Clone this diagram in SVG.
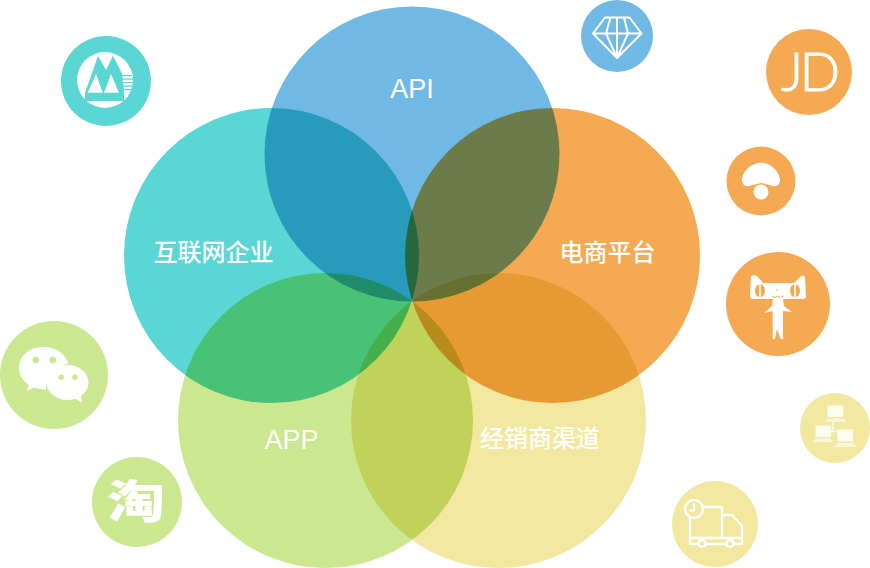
<svg xmlns="http://www.w3.org/2000/svg" width="870" height="568" viewBox="0 0 870 568">
<style>
.v{mix-blend-mode:multiply}
.lab{fill:#fff;font-family:"Liberation Sans","Noto Sans CJK SC",sans-serif;font-size:27px;text-anchor:middle}
.cjk{font-family:"Noto Sans CJK SC",sans-serif;font-size:24px;font-weight:500}
.ln{fill:none;stroke:#fff;stroke-width:2;stroke-linejoin:round;stroke-linecap:round}
.tr{stroke-width:2.400}
.thin{fill:none;stroke:#fff;stroke-width:1.200}
.w{fill:#fff}
.blue{fill:#70b9e4}.teal{fill:#5ad6d4}.or{fill:#f4a952}.gr{fill:#cbe78f}.ye{fill:#f2e8a0}
</style>
<rect width="870" height="568" fill="#fff"/>
<g id="venn" style="isolation:isolate">
<rect width="870" height="568" fill="#fff"/>
<circle class="v blue" cx="412" cy="154" r="147.5"/>
<circle class="v teal" cx="271.5" cy="255.5" r="147.5"/>
<circle class="v or" cx="552.5" cy="255.5" r="147.5"/>
<circle class="v gr" cx="325.5" cy="420.5" r="147.5"/>
<circle class="v ye" cx="498.500" cy="420.5" r="147.5"/>
</g>
<g id="api"><text class="lab" x="412" y="97.500">API</text></g>
<g id="internet"><text class="lab cjk" x="213.500" y="261">互联网企业</text></g>
<g id="ecommerce"><text class="lab cjk" x="607.500" y="261">电商平台</text></g>
<g id="app"><text class="lab" x="291.500" y="448.500">APP</text></g>
<g id="dealer"><text class="lab cjk" x="540" y="447">经销商渠道</text></g>

<g id="icon-cmb">
<circle class="teal" cx="106" cy="81" r="45"/>
<circle class="w" cx="105" cy="80" r="28"/>
<path class="teal" d="M98 55.700L106 70L113 55.700L122 73.500L124 92V101H85V93Z"/>
<path class="w" d="M96 74L87.700 92.700H102.700ZM111 74L104 92.700H119Z"/>
<path class="teal" d="M121 75H132V76.200H121ZM122 78.500H133V79.700H122ZM122.500 82H133V83.200H122.500ZM123 85.500H132.500V86.700H123ZM123.500 89H132V90.200H123.500Z"/>
</g>
<g id="icon-diamond">
<circle class="blue" cx="617" cy="36" r="36"/>
<path class="ln" d="M605 17.500H629.500L641.500 33.500L617 58L593 33.500ZM593 33.500H641.500M610.500 17.500L606 33.500L617 58M624 17.500L628 33.500L617 58M617 17.500V58"/>
</g>
<g id="icon-jd">
<circle class="or" cx="809" cy="72" r="43"/>
<text x="809" y="91" fill="#fff" stroke="#fff" stroke-width="1" font-family="Lato,sans-serif" font-weight="300" font-size="53" letter-spacing="-3" text-anchor="middle">JD</text>
</g>
<g id="icon-mushroom">
<circle class="or" cx="761" cy="181" r="34.500"/>
<path class="w" d="M761 162.700C771 162.700 780 172 780 180C780 185 776 187 772.500 186L768 184.500H754L749.500 186C746 187 742 185 742 180C742 172 751 162.700 761 162.700Z"/>
<circle class="or" cx="761" cy="192" r="9"/>
<circle class="w" cx="761" cy="192" r="7.500"/>
</g>
<g id="icon-cat">
<circle class="or" cx="778" cy="304" r="52"/>
<path class="w" d="M751 276.500C753 274.500 756 275 758 277L763 283H794L800 277C802 275 804 275 805 277L806 295C806 298 805 299 803 299H753C751 299 750 298 750 295Z"/>
<ellipse class="or" cx="760" cy="290.700" rx="5" ry="6.500"/>
<ellipse class="or" cx="795" cy="290.700" rx="5" ry="6.500"/>
<rect class="w" x="759.200" y="283" width="1.600" height="15"/>
<rect class="w" x="794.200" y="283" width="1.600" height="15"/>
<path d="M772 296Q774.800 299 777.500 296Q780.200 299 783 296M776 290H778" fill="none" stroke="#f4a952" stroke-width="1"/>
<path class="w" d="M773 299H783L784 306L792 312L783 311L783 339H780.500L777 329L775 339H772.700L772.700 311L764 313L772 306Z"/>
</g>
<g id="icon-network">
<circle class="ye" cx="835" cy="428" r="35"/>
<path class="w" fill-opacity=".85" d="M827.500 405.500H843V417H827.500ZM815.500 425.500H831V437H815.500ZM837.500 429.500H853V441.500H837.500Z"/>
<path class="w" fill-opacity=".6" d="M824 422L827 418.500H844L847 422ZM812 442L815.500 438.500H830L833 442ZM834 447L837.500 443H853L857 447Z"/>
<path class="thin" d="M833 422V432M831 431.700H837"/>
</g>
<g id="icon-truck">
<circle class="ye" cx="715" cy="524" r="43"/>
<path class="ln tr" d="M703 507H722V538M690 518V544H742V526L732 515H722M690 538H742"/>
<circle class="ln tr" cx="694" cy="509" r="9" style="fill:#f2e8a0"/>
<path class="ln" d="M694 504V510.500H689.500"/>
<circle class="ln tr" cx="702" cy="543.500" r="3.500" style="fill:#f2e8a0"/>
<circle class="ln tr" cx="730" cy="543.500" r="3.500" style="fill:#f2e8a0"/>
</g>
<g id="icon-wechat">
<circle class="gr" cx="54" cy="375" r="54"/>
<path class="w" d="M43.500 347C29 347 19 356 19 368C19 375 23 381 29 385L26.500 391L34 387.500C38 389 42 389.500 46 389.500C45 378 56 365 68.500 364C66 354 56 347 43.500 347Z"/>
<ellipse class="w" cx="67.500" cy="382.500" rx="21" ry="17.500"/>
<path class="w" d="M74 398L82 402.500L81 395Z"/>
<circle cx="35.700" cy="360" r="3.300" class="gr"/><circle cx="52.700" cy="360" r="3.300" class="gr"/>
<circle cx="61.300" cy="377.300" r="2.700" class="gr"/><circle cx="75" cy="377.300" r="2.700" class="gr"/>
</g>
<g id="icon-taobao">
<circle class="gr" cx="137" cy="502" r="45"/>
<text transform="translate(136 518) scale(1 .78)" fill="#fff" font-family="Noto Sans CJK SC,sans-serif" font-weight="900" font-size="58" text-anchor="middle">淘</text>
</g>
</svg>
